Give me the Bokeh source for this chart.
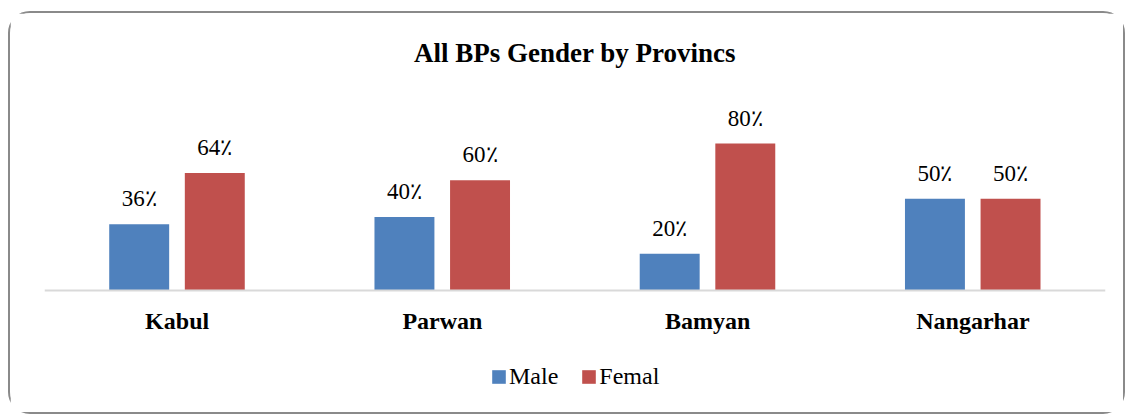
from bokeh.plotting import figure
from bokeh.models import ColumnDataSource, FactorRange, LabelSet, Legend, LegendItem, Range1d
from bokeh.transform import dodge
from bokeh.core.properties import value
from bokeh.embed import file_html
from bokeh.resources import INLINE

provinces = ["Kabul", "Parwan", "Bamyan", "Nangarhar"]
male = [36, 40, 20, 50]
female = [64, 60, 80, 50]
series_names = ["Male", "Femal"]
colors = ["#4F81BD", "#C0504D"]

src = ColumnDataSource(dict(
    prov=provinces, male=male, female=female,
    male_lbl=[f"{v}٪" for v in male],
    female_lbl=[f"{v}٪" for v in female],
))

# layout geometry (pixels)
FRAME_TOP = 60
FRAME_H = 337
BASE_FROM_TOP = 217      # baseline (0%) distance from frame top
PX_PER_UNIT = 1.8375
y_top = BASE_FROM_TOP / PX_PER_UNIT
y_bot = -(FRAME_H - BASE_FROM_TOP) / PX_PER_UNIT

p = figure(x_range=FactorRange(*provinces, range_padding=0), y_range=Range1d(y_bot, y_top),
           frame_width=1061, frame_height=FRAME_H, output_backend="svg", toolbar_location=None,
           min_border_left=34, min_border_right=18, min_border_top=FRAME_TOP, min_border_bottom=2,
           styles={"border": "2px solid #8a8a8a", "border-radius": "22px",
                   "margin-left": "8px", "margin-top": "11px"})

p.title.text = "All BPs Gender by Provincs"
p.title.align = "center"
p.title.text_font = "Liberation Serif"
p.title.text_font_size = "27px"
p.title.text_font_style = "bold"
p.title.text_color = "#000000"
p.title.standoff = 11

w = 0.226
r1 = p.vbar(x=dodge("prov", -0.143, range=p.x_range), top="male", width=w, source=src,
            fill_color=colors[0], line_color=None)
r2 = p.vbar(x=dodge("prov", 0.142, range=p.x_range), top="female", width=w, source=src,
            fill_color=colors[1], line_color=None)

for col, off in (("male", -0.143), ("female", 0.142)):
    p.add_layout(LabelSet(x=dodge("prov", off, range=p.x_range), y=col, text=col + "_lbl",
                          source=src, text_align="center", text_baseline="bottom", y_offset=13,
                          text_font=value("Liberation Serif"), text_font_size="23px",
                          text_color="#000000"))

p.yaxis.visible = False
p.xgrid.visible = False
p.ygrid.visible = False
p.outline_line_color = None
p.xaxis.fixed_location = 0
p.xaxis.axis_line_color = "#d9d9d9"
p.xaxis.axis_line_width = 2
p.xaxis.major_tick_line_color = None
p.xaxis.minor_tick_line_color = None
p.xaxis.major_label_text_font = "Liberation Serif"
p.xaxis.major_label_text_font_size = "24px"
p.xaxis.major_label_text_font_style = "bold"
p.xaxis.major_label_text_color = "#000000"
p.xaxis.major_label_standoff = 11

legend = Legend(items=[LegendItem(label=series_names[0], renderers=[r1]),
                       LegendItem(label=series_names[1], renderers=[r2])],
                orientation="horizontal", location=(446, 20),
                label_text_font="Liberation Serif", label_text_font_size="24px",
                label_text_color="#000000",
                glyph_width=17, glyph_height=17, label_standoff=2, spacing=22,
                border_line_color=None, background_fill_alpha=0, margin=0, padding=0)
p.add_layout(legend, "center")

open("out.html", "w").write(file_html(p, INLINE))
